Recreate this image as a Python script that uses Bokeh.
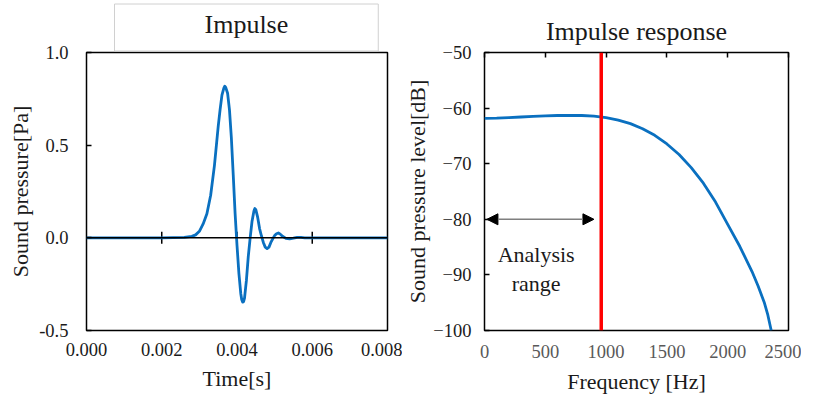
from bokeh.plotting import figure
from bokeh.layouts import row
from bokeh.models import (FixedTicker, PrintfTickFormatter, Range1d, Span, Label, Title,
                          LinearAxis, Arrow, NormalHead)
from bokeh.embed import file_html
from bokeh.resources import INLINE

# ---------------- data ----------------
time_ms = [0.0, 2.0, 2.6, 2.8, 2.9, 3.0, 3.1, 3.2, 3.3, 3.4, 3.5, 3.55, 3.6, 3.65,
           3.675, 3.7, 3.75, 3.8, 3.85, 3.9, 3.95, 4.0, 4.05, 4.1, 4.125, 4.15,
           4.175, 4.2, 4.25, 4.3, 4.35, 4.4, 4.45, 4.475, 4.5, 4.55, 4.6, 4.65,
           4.7, 4.75, 4.8, 4.85, 4.9, 4.95, 5.0, 5.05, 5.1, 5.15, 5.2, 5.3, 5.4,
           5.5, 5.6, 5.7, 5.8, 8.0]
pressure = [0.0, 0.0, 0.002, 0.008, 0.016, 0.035, 0.075, 0.13, 0.23, 0.39, 0.60, 0.69,
            0.77, 0.808, 0.818, 0.812, 0.78, 0.69, 0.54, 0.34, 0.13, -0.04, -0.19,
            -0.30, -0.333, -0.347, -0.345, -0.325, -0.23, -0.10, 0.0, 0.09, 0.145,
            0.158, 0.152, 0.11, 0.05, 0.01, -0.025, -0.05, -0.058, -0.05, -0.025,
            -0.005, 0.012, 0.022, 0.026, 0.02, 0.01, -0.003, -0.006, -0.002, 0.003,
            0.002, 0.0, 0.0]
time_s = [t / 1000.0 for t in time_ms]

freq = [0, 100, 200, 300, 400, 500, 600, 700, 800, 900, 1000, 1100, 1200, 1300,
        1400, 1500, 1600, 1700, 1800, 1900, 2000, 2100, 2200, 2250, 2300, 2330, 2358]
level = [-61.85, -61.8, -61.7, -61.6, -61.5, -61.4, -61.33, -61.3, -61.33, -61.45,
         -61.7, -62.15, -62.8, -63.7, -64.9, -66.45, -68.35, -70.7, -73.5, -76.9,
         -80.9, -84.9, -89.4, -92.0, -94.9, -97.2, -100.0]

left_xticks = [0.0, 0.002, 0.004, 0.006, 0.008]
left_yticks = [-0.5, 0.0, 0.5, 1.0]
right_xticks = [0, 500, 1000, 1500, 2000, 2500]
right_yticks = [-100, -90, -80, -70, -60, -50]
cutoff_hz = 960
arrow_start_hz, arrow_end_hz, arrow_db = 20, 900, -80

FONT = "Liberation Serif"
BLUE = "#0a70c0"
H = 398

# ---------------- left: impulse ----------------
p1 = figure(width=402, height=H, output_backend="svg", toolbar_location=None,
            x_range=Range1d(0, 0.008), y_range=Range1d(-0.5, 1.0),
            min_border_left=86, min_border_right=15, min_border_top=50,
            min_border_bottom=68)
p1.grid.visible = False
p1.outline_line_color = "black"
p1.outline_line_width = 1.5
p1.background_fill_color = "white"
p1.border_fill_color = "white"

for ax in (p1.xaxis[0], p1.yaxis[0]):
    ax.axis_line_color = None
    ax.major_label_text_font = FONT
    ax.major_label_text_font_size = "18.5px"
    ax.major_label_text_color = "#1a1a1a"
    ax.axis_label_text_font = FONT
    ax.axis_label_text_font_size = "22px"
    ax.axis_label_text_font_style = "normal"
    ax.axis_label_text_color = "#1a1a1a"
    ax.minor_tick_line_color = None
    ax.major_tick_out = 0

p1.xaxis.ticker = FixedTicker(ticks=left_xticks)
p1.xaxis.formatter = PrintfTickFormatter(format="%.3f")
p1.xaxis.major_tick_in = 0
p1.xaxis.major_label_standoff = 12
p1.xaxis.axis_label = "Time[s]"
p1.xaxis.axis_label_standoff = 7

p1.yaxis.ticker = FixedTicker(ticks=left_yticks)
p1.yaxis.formatter = PrintfTickFormatter(format="%.1f")
p1.yaxis.major_tick_in = 5
p1.yaxis.major_tick_line_color = "black"
p1.yaxis.major_tick_line_width = 1.5
p1.yaxis.major_label_standoff = 18
p1.yaxis.axis_label = "Sound pressure[Pa]"
p1.yaxis.axis_label_standoff = 3

p1.add_layout(Span(location=0, dimension="width", line_color="black", line_width=1.5))
p1.scatter(x=left_xticks[1:-1], y=[0] * (len(left_xticks) - 2), marker="dash",
           size=12, angle=1.5708, line_color="black", line_width=1.5)
p1.line(time_s, pressure, line_color=BLUE, line_width=2.8, line_join="round")

p1.add_layout(Title(text="Impulse", text_font=FONT, text_font_size="26px",
                    text_font_style="normal", text_color="#1a1a1a", align="left",
                    offset=28, standoff=3, border_line_color="#d0d0d0",
                    border_line_width=1, background_fill_color="white",
                    padding=(90, 90, 6, 12)), "above")

# ---------------- right: impulse response ----------------
p2 = figure(width=399, height=H, output_backend="svg", toolbar_location=None,
            x_range=Range1d(0, 2500), y_range=Range1d(-100, -50),
            min_border_left=74, min_border_right=13, min_border_top=50,
            min_border_bottom=68)
p2.grid.visible = False
p2.outline_line_color = "black"
p2.outline_line_width = 1.5
p2.background_fill_color = "white"
p2.border_fill_color = "white"

for ax in (p2.xaxis[0], p2.yaxis[0]):
    ax.axis_line_color = None
    ax.major_label_text_font = FONT
    ax.major_label_text_font_size = "18.5px"
    ax.axis_label_text_font = FONT
    ax.axis_label_text_font_size = "22px"
    ax.axis_label_text_font_style = "normal"
    ax.axis_label_text_color = "#1a1a1a"
    ax.minor_tick_line_color = None
    ax.major_tick_out = 0

p2.xaxis.ticker = FixedTicker(ticks=right_xticks)
p2.xaxis.major_tick_in = 0
p2.xaxis.major_label_text_color = "#595959"
p2.xaxis.major_label_standoff = 14
p2.xaxis.axis_label = "Frequency [Hz]"
p2.xaxis.axis_label_standoff = 8

p2.yaxis.ticker = FixedTicker(ticks=right_yticks)
p2.yaxis.major_label_text_color = "#1a1a1a"
p2.yaxis.major_tick_in = 5
p2.yaxis.major_tick_line_color = "black"
p2.yaxis.major_tick_line_width = 1.5
p2.yaxis.major_label_standoff = 13
p2.yaxis.axis_label = "Sound pressure level[dB]"
p2.yaxis.axis_label_standoff = 0

top_axis = LinearAxis(ticker=FixedTicker(ticks=right_xticks), axis_line_color=None,
                      major_tick_in=5, major_tick_out=0, major_tick_line_width=1.5,
                      major_tick_line_color="black", minor_tick_line_color=None,
                      major_label_text_alpha=0, major_label_text_font_size="1px",
                      major_label_standoff=0)
p2.add_layout(top_axis, "above")

p2.line(freq, level, line_color=BLUE, line_width=2.8, line_join="round")
p2.add_layout(Span(location=cutoff_hz, dimension="height", line_color="#ff0000",
                   line_width=3.5))
p2.add_layout(Arrow(x_start=arrow_start_hz, y_start=arrow_db, x_end=arrow_end_hz,
                    y_end=arrow_db, line_color="#7f7f7f", line_width=1.5,
                    start=NormalHead(size=11, fill_color="black", line_color="black"),
                    end=NormalHead(size=11, fill_color="black", line_color="black")))
p2.add_layout(Label(x=425, y=-88.9, text="Analysis\nrange", text_font=FONT,
                    text_font_size="22px", text_color="#1a1a1a", text_align="center",
                    text_baseline="middle", text_line_height=1.15))
p2.add_layout(Title(text="Impulse response", text_font=FONT, text_font_size="26px",
                    text_font_style="normal", text_color="#1a1a1a", align="center",
                    standoff=13), "above")

layout = row(p1, p2)
open("out.html", "w").write(file_html(layout, INLINE))
